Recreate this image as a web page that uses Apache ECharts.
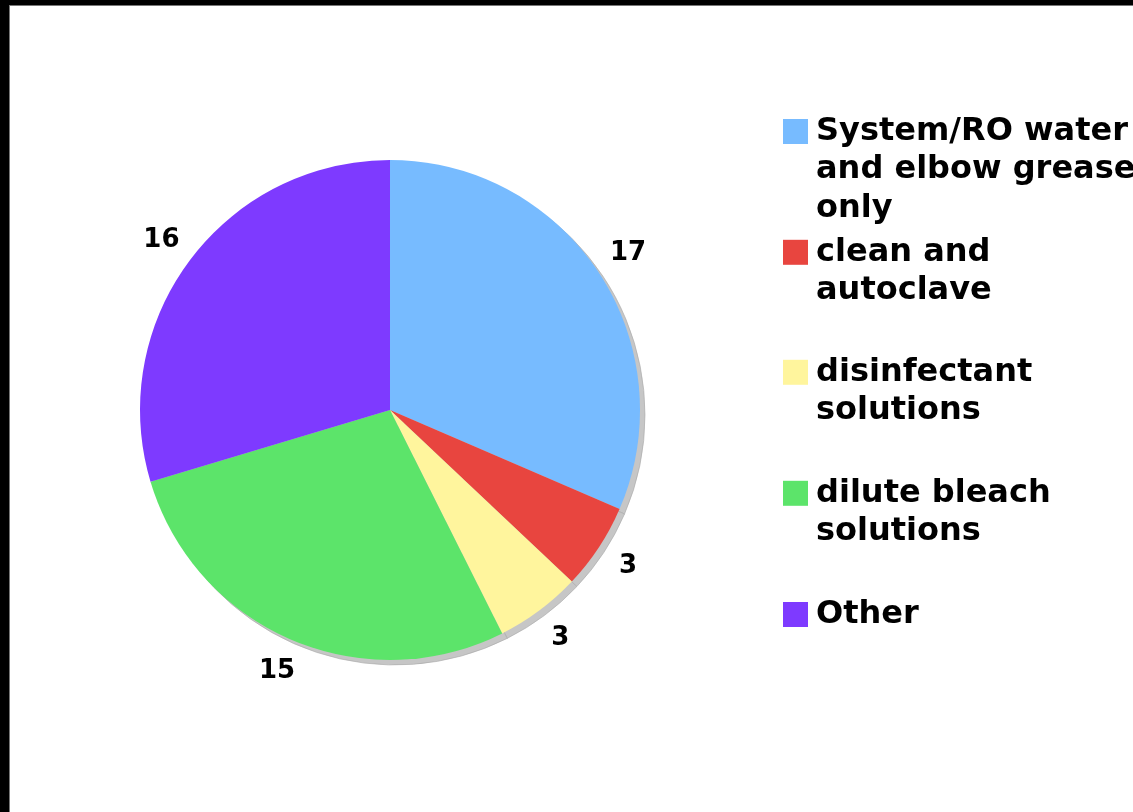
<!DOCTYPE html>
<html>
<head>
<meta charset="utf-8">
<script src="https://cdn.jsdelivr.net/npm/echarts@6/dist/echarts.min.js"></script>
<style>
	html,body{margin:0;padding:0;background:#000;}
	#chart{position:absolute;left:9px;top:5px;width:1123px;height:806px;background:#fff;border-left:1px solid #777;border-top:1px solid #777;}
</style>
</head>
<body>
<div id="chart"></div>
<script type="text/javascript">
	// data
	var categories = ["System/RO water and elbow grease only","clean and autoclave","disinfectant solutions","dilute bleach solutions","Other"];
	var legendText = ["System/RO water\nand elbow grease\nonly","clean and\nautoclave","disinfectant\nsolutions","dilute bleach\nsolutions","Other"];
	var values = [17,3,3,15,16];
	var colors = ["#77bbff","#e8453f","#fff59d","#5ce46a","#7e3aff"];

	var font = "'DejaVu Sans', Verdana, sans-serif";
	var lh = 38.5;
	var iconCenters = [125.5,246.3,366.3,487.3,608.5];//icon centre y in the chart box

	var pieData = categories.map(function(name,i){
		return {name:name,value:values[i],itemStyle:{color:colors[i]}};
	});

	//one legend per item; blank lines on top keep the first line level with the icon
	var legends = categories.map(function(name,i){
		var lines = legendText[i].split("\n").length;
		var txt = new Array(lines).join(" \n") + legendText[i];
		return {
			left:773,
			top:iconCenters[i]-(2*lines-1)*lh/2,
			padding:0,
			icon:'rect',
			itemWidth:25,
			itemHeight:25,
			itemGap:0,
			selectedMode:false,
			data:[name],
			formatter:function(){return txt;},
			textStyle:{fontFamily:font,fontWeight:'bold',fontSize:32,lineHeight:lh,color:'#000',padding:[0,0,0,3]}
		};
	});

	var myChart = echarts.init(document.getElementById("chart"));
	var option = {
		animation:false,
		legend:legends,
		series:[
			{
				type:'pie',
				z:2,
				center:[380,404],
				radius:250,
				startAngle:90,
				clockwise:true,
				silent:true,
				label:{show:false},
				labelLine:{show:false},
				data:pieData
			},
			{//shadow
				type:'pie',
				z:1,
				center:[385,409],
				radius:250,
				startAngle:90,
				silent:true,
				label:{show:false},
				labelLine:{show:false},
				itemStyle:{color:'#c6c6c6',borderColor:'#a8a8a8',borderWidth:0.6},
				data:values.map(function(v,i){return {name:categories[i]+" ",value:v};})
			},
			{//value labels
				type:'pie',
				z:3,
				center:[380,404],
				radius:[250,314],
				startAngle:90,
				silent:true,
				itemStyle:{color:'rgba(0,0,0,0)'},
				label:{show:true,position:'inside',formatter:'{c}',fontFamily:font,fontWeight:'bold',fontSize:26,color:'#000'},
				labelLine:{show:false},
				data:values.map(function(v,i){return {name:categories[i]+"  ",value:v};})
			}
		]
	};
	myChart.setOption(option);
</script>
</body>
</html>
